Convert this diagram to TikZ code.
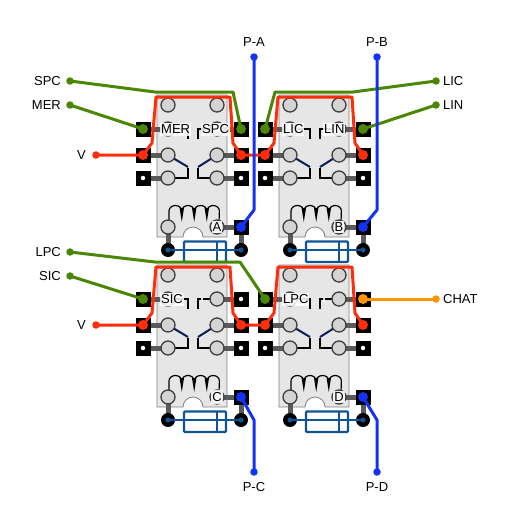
\documentclass[tikz,border=0pt]{standalone}
\usepackage{fontspec}
\setmainfont{Liberation Sans}
\definecolor{stubgray}{RGB}{90,90,90}
\definecolor{bodygray}{RGB}{230,230,230}
\definecolor{wirered}{RGB}{255,45,10}
\definecolor{wiregreen}{RGB}{75,135,5}
\definecolor{wireblue}{RGB}{20,50,245}
\definecolor{wireorange}{RGB}{255,150,0}
\definecolor{fuseblue}{RGB}{15,85,150}
\definecolor{armnavy}{RGB}{10,30,90}
\usetikzlibrary{positioning}
\tikzset{
  termbox/.style={draw=none, fill=black, minimum size=15pt, inner sep=0pt},
  holedot/.style={circle, fill=white, minimum size=4.5pt, inner sep=0pt},
  gnddot/.style={circle, fill=black, minimum size=14pt, inner sep=0pt},
  padcirc/.style={circle, draw=black!75, line width=1.3pt, fill=black!17, minimum size=14pt, inner sep=0pt},
  wiredot/.style={circle, fill=#1, minimum size=10pt, inner sep=0pt},
  enddot/.style={circle, fill=#1, minimum size=7.5pt, inner sep=0pt},
  wire/.style={draw=#1, line width=3pt, line join=round},
  stub/.style={stubgray, line width=5pt},
  contact/.style={black, line width=1.2pt},
  lbl/.style={font=\fontsize{13}{14}\selectfont, inner sep=0pt},
  relaytag/.style={font=\fontsize{13}{14}\selectfont, fill=white, fill opacity=0.85, text opacity=1, inner xsep=1pt, inner ysep=2pt},
  % one relay with its pins, fuse and coil
  pics/relay/.style n args={3}{code={
    \draw[fill=bodygray, draw=black!50, line width=0.8pt]
      (0,0) -- (70,0) -- (70,142) -- (46,142) arc[start angle=0, end angle=-180, radius=10] -- (0,142) -- cycle;
    \draw[stub] (-14,34) -- (11,34) (-14,60) -- (11,60) (-14,83) -- (11,83);
    \draw[stub] (84,34) -- (60,34) (84,60) -- (60,60) (84,83) -- (60,83);
    \draw[stub] (11,132) -- (11,155) (60,132) -- (84,132) -- (84,155);
    \node[termbox] (-pl1) at (-14,34) {};
    \node[termbox] (-pl2) at (-14,60) {};
    \node[termbox] (-pl3) at (-14,83) {};
    \node[termbox] (-pr1) at (84,34) {};
    \node[termbox] (-pr2) at (84,60) {};
    \node[termbox] (-pr3) at (84,83) {};
    \node[termbox] (-pc) at (84,132) {};
    \node[holedot] at (-14,83) {};
    \node[holedot] at (84,83) {};
    % contacts
    \draw[contact] (11,34) -- (31,34) -- (31,44);
    \draw[contact] (60,34) -- (41,34) -- (41,44);
    \draw[contact] (11,83) -- (31,83) -- (31,73);
    \draw[contact] (60,83) -- (41,83) -- (41,73);
    \draw[armnavy, line width=2pt] (11,60) -- (31,72);
    \draw[armnavy, line width=2pt] (60,60) -- (41,72);
    % coil
    \draw[black, line width=1.2pt] (12,127) -- (12,116)
      arc[start angle=180, end angle=360, x radius=6.4, y radius=5.5]
      arc[start angle=180, end angle=360, x radius=6.2, y radius=5.5]
      arc[start angle=180, end angle=360, x radius=6.4, y radius=5.5]
      arc[start angle=180, end angle=360, x radius=6.2, y radius=5.5] -- (62,127);
    \foreach \sx in {24.8,37.2,49.8}{
      \fill[black] (\sx-2.2,113) -- (\sx+2.2,113) -- (\sx,127) -- cycle;
    }
    \foreach \sx/\sy in {11/10,60/10,11/34,60/34,11/60,60/60,11/83,60/83,11/132,60/132}{
      \node[padcirc] at (\sx,\sy) {};
    }
    % fuse
    \node[gnddot] (-gl) at (11,155) {};
    \node[gnddot] (-gr) at (84,155) {};
    \draw[fuseblue, line width=1.5pt] (-gl.center) -- (-gr.center);
    \fill[fuseblue] (11,155) circle (2.6) (84,155) circle (2.6);
    \draw[fuseblue, line width=2.2pt, rounded corners=1pt] (27,146.5) rectangle (69,167);
    \draw[fuseblue, line width=2.2pt] (60,146.5) -- (60,167);
    \node[relaytag] at (60,132) {#1};
    \node[relaytag, anchor=west] at (3,34.5) {#2};
    \node[relaytag, anchor=west] at (44,34.5) {#3};
  }}
}

\begin{document}
\begin{tikzpicture}[x=1pt, y=-1pt]
\useasboundingbox (0,0) rectangle (512,512);

% === Relays ===
\pic (ra) at (157,95) {relay={A}{MER}{SPC}};
\pic (rb) at (279,95) {relay={B}{LIC}{LIN}};
\pic (rc) at (157,265) {relay={C}{SIC}{}};
\pic (rd) at (279,265) {relay={D}{LPC}{}};

% === Outer labels ===
\node[enddot=wiregreen] (spc) at (70,81) {};
\node[enddot=wiregreen] (mer) at (70,105) {};
\node[enddot=wirered] (va) at (96,155) {};
\node[enddot=wireblue] (pa) at (254,57) {};
\node[enddot=wireblue] (pb) at (377,57) {};
\node[enddot=wiregreen] (lic) at (436,81) {};
\node[enddot=wiregreen] (lin) at (436,105) {};
\node[enddot=wiregreen] (lpc) at (70,252) {};
\node[enddot=wiregreen] (sic) at (70,276) {};
\node[enddot=wirered] (vc) at (96,325) {};
\node[enddot=wireorange] (chat) at (436,299) {};
\node[enddot=wireblue] (pc) at (254,472) {};
\node[enddot=wireblue] (pd) at (377,472) {};

\node[lbl, left=5pt of spc] (spct) {SPC};
\node[lbl, left=5pt of mer] (mert) {MER};
\node[lbl, left=6pt of va] (vat) {V};
\node[lbl, above=6pt of pa] (pat) {P-A};
\node[lbl, above=6pt of pb] (pbt) {P-B};
\node[lbl, right=3pt of lic] (lict) {LIC};
\node[lbl, right=3pt of lin] (lint) {LIN};
\node[lbl, left=5pt of lpc] (lpct) {LPC};
\node[lbl, left=5pt of sic] (sict) {SIC};
\node[lbl, left=6pt of vc] (vct) {V};
\node[lbl, right=3pt of chat] (chatt) {CHAT};
\node[lbl, below=6pt of pc] (pct) {P-C};
\node[lbl, below=6pt of pd] (pdt) {P-D};

% === Green wires ===
\draw[wire=wiregreen] (spc.center) -- (155,92) -- (233,92) -- (ra-pr1.center);
\draw[wire=wiregreen] (mer.center) -- (ra-pl1.center);
\draw[wire=wiregreen] (lic.center) -- (353,92) -- (275,92) -- (rb-pl1.center);
\draw[wire=wiregreen] (lin.center) -- (rb-pr1.center);
\draw[wire=wiregreen] (lpc.center) -- (155,262) -- (240,262) -- (rd-pl1.center);
\draw[wire=wiregreen] (sic.center) -- (rc-pl1.center);
\foreach \pinname in {ra-pr1,ra-pl1,rb-pl1,rb-pr1,rd-pl1,rc-pl1}{
  \node[wiredot=wiregreen] at (\pinname) {};
}

% === Red wires ===
\draw[wire=wirered] (va.center) -- (ra-pl2.center) -- (152,143) -- (156,97) -- (230,97) -- (233,143)
  -- (ra-pr2.center) -- (rb-pl2.center) -- (274,143) -- (278,97) -- (352,97) -- (355,143) -- (rb-pr2.center);
\draw[wire=wirered] (vc.center) -- (rc-pl2.center) -- (152,313) -- (156,267) -- (230,267) -- (233,313)
  -- (rc-pr2.center) -- (rd-pl2.center) -- (274,313) -- (278,267) -- (352,267) -- (355,313) -- (rd-pr2.center);
\foreach \pinname in {ra-pl2,ra-pr2,rb-pl2,rb-pr2,rc-pl2,rc-pr2,rd-pl2,rd-pr2}{
  \node[wiredot=wirered] at (\pinname) {};
}

% === Blue wires ===
\draw[wire=wireblue] (pa.center) -- (254,210) -- (ra-pc.center);
\draw[wire=wireblue] (pb.center) -- (377,210) -- (rb-pc.center);
\draw[wire=wireblue] (pc.center) -- (254,420) -- (rc-pc.center);
\draw[wire=wireblue] (pd.center) -- (377,420) -- (rd-pc.center);
\foreach \pinname in {ra-pc,rb-pc,rc-pc,rd-pc}{
  \node[wiredot=wireblue] at (\pinname) {};
}

% === Orange wire ===
\draw[wire=wireorange] (chat.center) -- (rd-pr1.center);
\node[wiredot=wireorange] at (rd-pr1) {};

% === Unused pins ===
\node[holedot] at (rc-pr1) {};

\end{tikzpicture}
\end{document}
